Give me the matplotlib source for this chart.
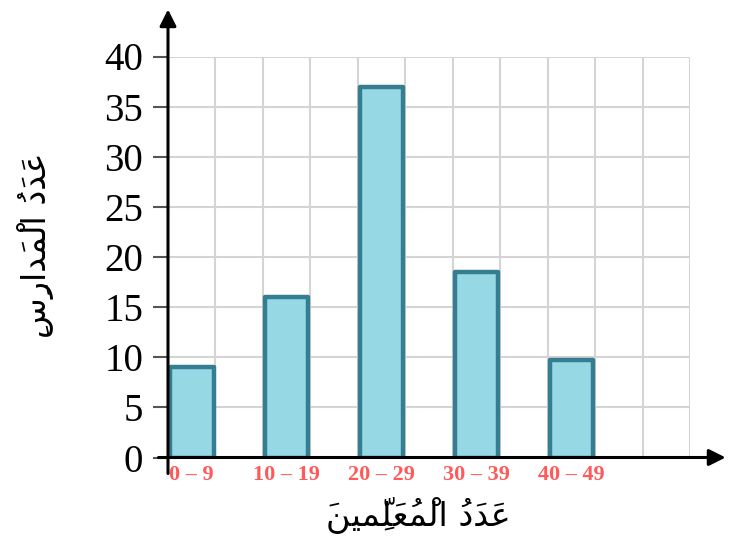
import matplotlib.pyplot as plt
import numpy as np

# data
categories = ["0 – 9", "10 – 19", "20 – 29", "30 – 39", "40 – 49"]
schools = [9, 16, 37, 18.5, 9.7]
y_ticks = [0, 5, 10, 15, 20, 25, 30, 35, 40]

# Arabic labels, pre-shaped (presentation forms) and written in visual order
FATHA, DAMMA, KASRA, SHADDA, SUKUN = "\u064E", "\u064F", "\u0650", "\u0651", "\u0652"

def visual(clusters):
    # logical order -> plain character reversal for left-to-right drawing
    return "".join(clusters)[::-1]

word_adad = ["\uFECB" + FATHA, "\uFEAA" + FATHA, "\uFEA9" + DAMMA]
word_teachers = ["\uFE8D", "\uFEDF" + SUKUN, "\uFEE4" + DAMMA, "\uFECC" + FATHA,
                 "\uFEE0" + SHADDA + KASRA, "\uFEE4", "\uFEF4", "\uFEE6" + FATHA]
word_schools = ["\uFE8D", "\uFEDF" + SUKUN, "\uFEE4" + FATHA, "\uFEAA", "\uFE8D",
                "\uFEAD" + KASRA, "\uFEB1" + KASRA]

xlabel = visual(word_teachers) + " " + visual(word_adad)
ylabel = visual(word_schools) + " " + visual(word_adad)

fig = plt.figure(figsize=(7.32, 5.45), dpi=100)
ax = fig.add_axes([168 / 732, 87.5 / 545, 522 / 732, 401 / 545])

x = np.arange(len(schools)) * 2 + 0.5
ax.bar(x, schools, width=0.92, color="#97d8e5", edgecolor="#357d91",
       linewidth=3.2, joinstyle="round", zorder=3)

ax.set_xlim(0, 11)
ax.set_ylim(0, 40)
ax.set_xticks(np.arange(1, 12))
ax.set_yticks(y_ticks)
ax.grid(True, color="#d4d4d4", linewidth=1.5, zorder=0)
ax.set_axisbelow(True)
for s in ax.spines.values():
    s.set_visible(False)

ax.tick_params(axis="x", length=0, labelbottom=False)
ax.tick_params(axis="y", length=11, width=1.5, color="#555555", pad=7)
ax.set_yticklabels([str(t) for t in y_ticks], fontsize=28,
                   family="Liberation Serif", color="black")

# axis lines with arrows
ax.annotate("", xy=(11.75, 0), xytext=(-0.2, 0), annotation_clip=False,
            arrowprops=dict(arrowstyle="-|>,head_length=1.0,head_width=0.5",
                            color="black", lw=2.2, shrinkA=0, shrinkB=0), zorder=5)
ax.annotate("", xy=(0, 44.7), xytext=(0, -1.6), annotation_clip=False,
            arrowprops=dict(arrowstyle="-|>,head_length=1.0,head_width=0.5",
                            color="black", lw=2.2, shrinkA=0, shrinkB=0), zorder=5)

# category labels under the bars
for xi, lab in zip(x, categories):
    ax.text(xi, -0.7, lab, ha="center", va="top", fontsize=16, fontweight="bold",
            family="Liberation Serif", color="#ff5a5a")

fig.text(418 / 732, 1 - 515 / 545, xlabel, ha="center", va="center",
         fontsize=24, family="DejaVu Sans")
fig.text(36 / 732, 1 - 245 / 545, ylabel, ha="center", va="center",
         rotation=90, fontsize=24, family="DejaVu Sans")

fig.savefig("out.png", dpi=100)
